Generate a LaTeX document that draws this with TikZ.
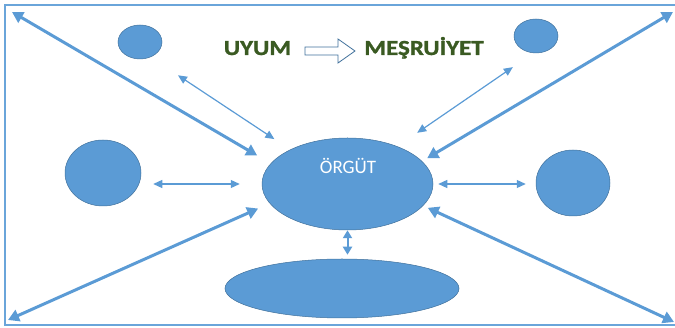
\documentclass[tikz,border=0pt]{standalone}
\usepackage{fontspec}
\setmainfont{Carlito}
\newfontfamily\titlefont{Carlito}[BoldFeatures={FakeBold=1.2}]
\usetikzlibrary{arrows.meta,shapes.geometric,calc}
\definecolor{obl}{HTML}{5B9BD5}
\definecolor{obd}{HTML}{41719C}
\definecolor{frm}{HTML}{6AA5DA}
\definecolor{dgreen}{HTML}{3A5A22}
\begin{document}
\begin{tikzpicture}[x=1pt,y=-1pt,
  blob/.style={ellipse, fill=obl, draw=obd, line width=0.5pt, inner sep=0pt},
  bigarrow/.style={draw=obl, line width=3pt, {Triangle[width=12pt,length=11pt]}-{Triangle[width=12pt,length=11pt]}},
  thinarrow/.style={draw=obl, line width=1.2pt, {Triangle[width=8pt,length=9pt]}-{Triangle[width=8pt,length=9pt]}},
  midarrow/.style={draw=obl, line width=2pt, {Triangle[width=9pt,length=8pt]}-{Triangle[width=9pt,length=8pt]}},
  titletext/.style={font=\titlefont\fontsize{21.5}{23}\selectfont\bfseries, text=dgreen, anchor=base, inner sep=0pt}]
\useasboundingbox (0,0) rectangle (675,328);
% frame
\draw[frm, line width=2.5pt] (690,5) -- (5,5) -- (5,325) -- (690,325);
% ellipses
\node[blob, minimum width=44pt, minimum height=34pt] (tl) at (140,42) {};
\node[blob, minimum width=44pt, minimum height=34pt] (tr) at (536,36) {};
\node[blob, minimum width=76pt, minimum height=66pt] (l) at (103,173) {};
\node[blob, minimum width=74pt, minimum height=66pt] (r) at (573,183) {};
\node[blob, minimum width=171pt, minimum height=92pt] (c) at (347.5,184) {};
\node[blob, minimum width=234pt, minimum height=59pt] (b) at (342,288.5) {};
\node[text=white, font=\fontsize{19}{20}\selectfont, anchor=base, inner sep=0pt] (org) at (348,174) {ÖRGÜT};
% title
\node[titletext] (uyum) at (257.5,55) {\scalebox{1.16}[1]{UYUM}};
\node[titletext] (mes) at (424,55) {\scalebox{1.16}[1]{MEŞRUİYET}};
\draw[obd, line width=0.8pt, fill=white] (305,47) -- (338,47) -- (338,39) -- (355,51) -- (338,63) -- (338,55) -- (305,55) -- cycle;
% corner coordinates
\coordinate (ktl) at (12,12);
\coordinate (ktr) at (673,12);
\coordinate (kbl) at (8,320);
\coordinate (kbr) at (674,322);
% long arrows
\draw[bigarrow, shorten >=15.7pt] (ktl) -- (c.165);
\draw[bigarrow, shorten >=6pt] (ktr) -- (c.17);
\draw[bigarrow, shorten >=12.6pt] (kbl) -- (c.194);
\draw[bigarrow, shorten >=5pt] (kbr) -- (c.-16);
% thin arrows
\draw[thinarrow, shorten <=32.8pt, shorten >=19pt] (tl.305) -- (c.149);
\draw[thinarrow, shorten <=24.8pt, shorten >=24pt] (tr.261) -- (c.37);
\draw[thinarrow, shorten <=12pt, shorten >=22pt] (l.east |- c) -- (c.west);
\draw[thinarrow, shorten <=5pt, shorten >=10pt] (c.east) -- (r.west |- c);
\draw[midarrow, shorten >=4pt] (c.south) -- (c.south |- b.north);
\end{tikzpicture}
\end{document}
